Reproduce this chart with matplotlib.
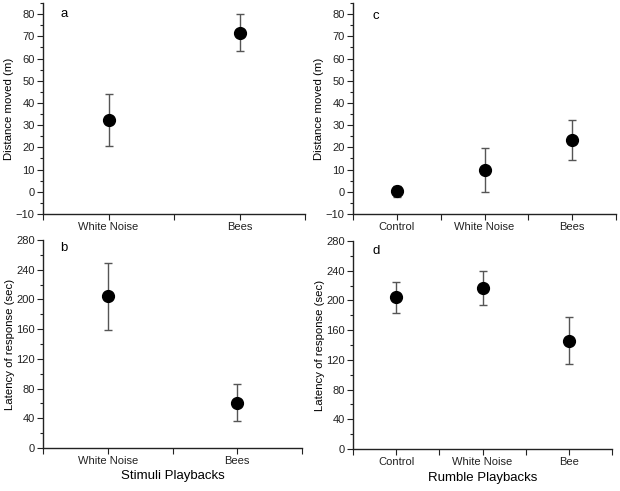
import matplotlib
matplotlib.use('Agg')
import matplotlib.pyplot as plt
from matplotlib.ticker import MultipleLocator, FixedLocator

plt.rcParams['font.family'] = ['Liberation Sans', 'DejaVu Sans']

# stimuli playbacks (panels a, b)
stim_labels = ['White Noise', 'Bees']
stim_dist = [32.3, 71.7]
stim_dist_err = [11.5, 8.5]
stim_lat = [204, 61]
stim_lat_err = [44.5, 25]

# rumble playbacks (panels c, d)
rumble_labels_c = ['Control', 'White Noise', 'Bees']
rumble_labels_d = ['Control', 'White Noise', 'Bee']
rumble_dist = [0.3, 9.9, 23.5]
rumble_dist_err = [2.5, 10.0, 9.0]
rumble_lat = [204.5, 217, 146]
rumble_lat_err = [21, 22.7, 31.7]

fig = plt.figure(figsize=(6.2, 4.91), dpi=100)
ax_a = fig.add_axes([0.0694, 0.5642, 0.4226, 0.4297])
ax_b = fig.add_axes([0.0694, 0.0876, 0.4177, 0.4236])
ax_c = fig.add_axes([0.5694, 0.5642, 0.4242, 0.4297])
ax_d = fig.add_axes([0.5694, 0.0855, 0.4177, 0.4236])


def panel(ax, labels, vals, errs, ylim, major, minor, ylabel, letter, lx, ly):
    x = list(range(1, len(labels) + 1))
    ax.errorbar(x, vals, yerr=errs, fmt='o', color='black', markersize=8.5,
                ecolor='#555555', elinewidth=1, capsize=3, capthick=1)
    ax.set_xlim(0.5, len(labels) + 0.5)
    ax.set_ylim(*ylim)
    ax.set_xticks(x)
    ax.set_xticklabels(labels)
    ax.xaxis.set_minor_locator(FixedLocator([i + 0.5 for i in range(len(labels) + 1)]))
    ax.yaxis.set_major_locator(MultipleLocator(major))
    ax.yaxis.set_minor_locator(MultipleLocator(minor))
    for s in ['top', 'right']:
        ax.spines[s].set_visible(False)
    for s in ['left', 'bottom']:
        ax.spines[s].set_linewidth(1.0)
        ax.spines[s].set_color('#222222')
    ax.tick_params(which='major', direction='out', length=4, width=0.8,
                   labelsize=8, pad=2, colors='#222222')
    ax.tick_params(which='minor', direction='out', length=2.5, width=0.8,
                   colors='#222222')
    ax.tick_params(axis='x', which='minor', length=4)
    ax.set_ylabel(ylabel, fontsize=8.2, labelpad=1)
    ax.text(lx, ly, letter, transform=ax.transAxes, fontsize=9.5,
            ha='left', va='center')


panel(ax_a, stim_labels, stim_dist, stim_dist_err, (-10, 85), 10, 5,
      'Distance moved (m)', 'a', 0.065, 0.95)
panel(ax_b, stim_labels, stim_lat, stim_lat_err, (0, 280), 40, 20,
      'Latency of response (sec)', 'b', 0.065, 0.96)
panel(ax_c, rumble_labels_c, rumble_dist, rumble_dist_err, (-10, 85), 10, 5,
      'Distance moved (m)', 'c', 0.075, 0.94)
panel(ax_d, rumble_labels_d, rumble_lat, rumble_lat_err, (0, 280), 40, 20,
      'Latency of response (sec)', 'd', 0.075, 0.95)

ax_b.set_xlabel('Stimuli Playbacks', fontsize=9.5, labelpad=3)
ax_d.set_xlabel('Rumble Playbacks', fontsize=9.5, labelpad=3)

fig.savefig('out.png', dpi=100)
